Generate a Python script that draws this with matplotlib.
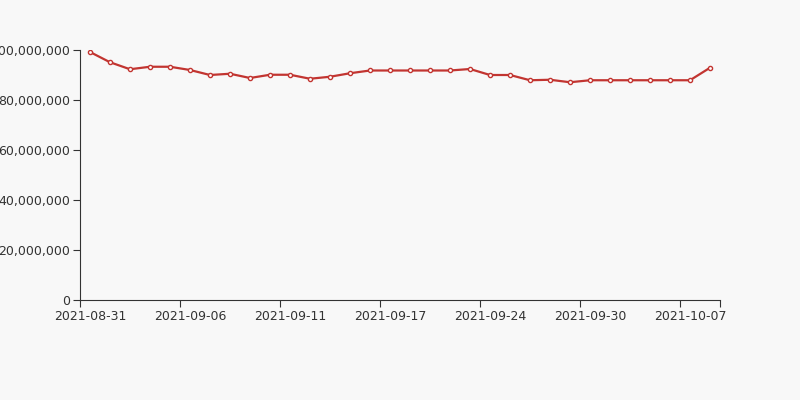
# Line chart of daily values, Aug 31 - Oct 8 2021
import numpy as np
import matplotlib.pyplot as plt
from matplotlib.ticker import FuncFormatter

# Data
dates = ["2021-08-31", "2021-09-01", "2021-09-02", "2021-09-03", "2021-09-05",
         "2021-09-06", "2021-09-07", "2021-09-08", "2021-09-09", "2021-09-10",
         "2021-09-11", "2021-09-13", "2021-09-14", "2021-09-15", "2021-09-16",
         "2021-09-17", "2021-09-18", "2021-09-20", "2021-09-22", "2021-09-23",
         "2021-09-24", "2021-09-26", "2021-09-27", "2021-09-28", "2021-09-29",
         "2021-09-30", "2021-10-01", "2021-10-03", "2021-10-04", "2021-10-05",
         "2021-10-07", "2021-10-08"]
values = [99.2, 95.1, 92.3, 93.3, 93.3, 92.0, 90.0, 90.5, 88.8, 90.1,
          90.1, 88.5, 89.3, 90.7, 91.8, 91.8, 91.8, 91.8, 91.8, 92.4,
          90.0, 90.0, 87.9, 88.1, 87.1, 87.9, 87.9, 87.9, 87.9, 87.9,
          87.9, 92.9]
values = [v * 1e6 for v in values]
label_every = 5

bg = "#f8f8f8"
text_col = "#333333"

fig = plt.figure(figsize=(8, 4), dpi=100, facecolor=bg)
ax = fig.add_axes([0.1, 0.25, 0.8, 0.625], facecolor=bg)

x = np.arange(len(dates))
ax.plot(x, values, color="#c23531", linewidth=1.6, marker="o", markersize=3,
        markerfacecolor="white", markeredgecolor="#c23531", markeredgewidth=1,
        zorder=3)

ax.set_xlim(-0.5, len(dates) - 0.5)
ax.set_ylim(0, 100e6)
ax.set_yticks(np.arange(0, 100e6 + 1, 20e6))
ax.yaxis.set_major_formatter(FuncFormatter(lambda v, p: f"{int(v):,}"))

# ticks on band boundaries, labels on band centres
bounds = list(np.arange(-0.5, len(dates) - 0.5, label_every)) + [len(dates) - 0.5]
ax.set_xticks(bounds)
ax.set_xticklabels([])
ax.set_xticks(x[::label_every], minor=True)
ax.set_xticklabels([dates[i] for i in x[::label_every]], minor=True)
ax.tick_params(axis="x", which="minor", length=0, pad=7, labelsize=9,
               labelcolor=text_col)
ax.tick_params(axis="x", which="major", length=5, color=text_col)
ax.tick_params(axis="y", length=5, pad=2, color=text_col, labelsize=9,
               labelcolor=text_col)

for s in ["top", "right"]:
    ax.spines[s].set_visible(False)
for s in ["left", "bottom"]:
    ax.spines[s].set_color(text_col)

fig.savefig("out.png", dpi=100, facecolor=bg)
